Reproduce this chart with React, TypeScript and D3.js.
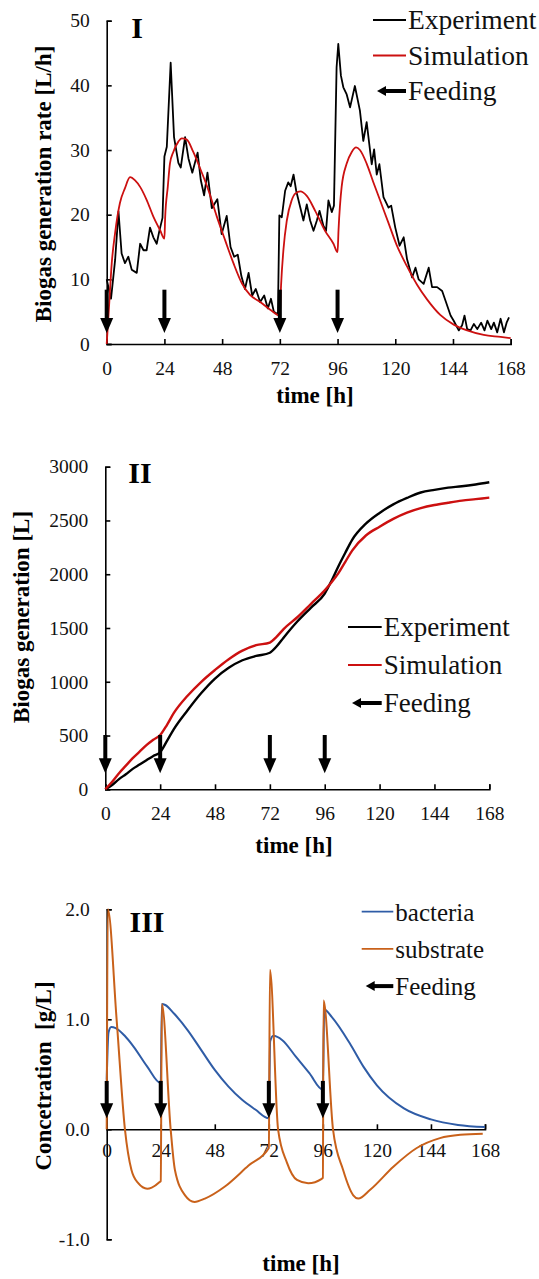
import React, { useRef, useEffect } from "react";
import * as d3 from "d3";

// shared axis data
const hourTicks = [0, 24, 48, 72, 96, 120, 144, 168];
const feedingTimes = [0, 24, 72, 96];

// Panel I - biogas generation rate [L/h]
const rateTicks = [0, 10, 20, 30, 40, 50];
const rateExpTime = [
    0, 1.8, 3.5, 4.9, 6.2, 7.6, 9, 10.4, 12.5, 13.9, 15.3, 16.6, 18, 19.4, 20.8, 21.9, 23.2,
    24, 25, 26.6, 28, 29.8, 30.8, 32.6, 34, 35.6, 37.8, 39.1, 40.5, 41.9, 43.7, 46, 47.8, 49.9,
    51.5, 53, 54.5, 56, 57.5, 59, 60.5, 62, 63.8, 65.5, 67, 68.3, 69.5, 71.2, 71.8, 72.8, 74.2,
    75.5, 76.5, 77.7, 78.8, 80.5, 81.8, 83.2, 84.6, 86, 87.4, 88.5, 90.1, 91.2, 92.2, 93.6, 94.5,
    95.6, 96.3, 97.4, 98.4, 99.8, 101.2, 103.2, 105.3, 106.7, 108.1, 110.2, 111.2, 112.3, 113.4,
    115.1, 117.2, 118.3, 120, 121.8, 123.5, 124.9, 127, 128.4, 129.7, 131.8, 133.9, 135.3, 137.4,
    139.5, 140.9, 143, 144.3, 146.4, 147.8, 148.8, 149.9, 151.3, 152.7, 154.1, 155.7, 157.1,
    158.3, 159.9, 161, 162.4, 163.8, 165.2, 166.3, 167.3,
];
const rateExpValue = [
    10, 7, 13, 20.5, 14, 12.5, 13.5, 11.5, 11, 15.5, 14.5, 14.5, 18, 16.5, 15.5, 17.5, 19.5,
    29, 30.5, 43.5, 32, 28, 27.3, 32, 28.7, 26.5, 29.6, 25.4, 23, 26.5, 21, 22.4, 17, 19.8,
    15, 13.5, 13.8, 10.5, 8.5, 11, 7.5, 8.5, 6.5, 7.5, 5.5, 7, 5, 4.6, 19.9, 19.6, 23.7,
    25, 24.4, 26.2, 23.7, 21.1, 19.1, 21.6, 19.1, 17.5, 19.1, 20.6, 18.3, 17.5, 22.2, 20.4, 21.4,
    42.8, 46.4, 41.5, 39.7, 38.6, 36.6, 39.9, 36.1, 31.4, 34.3, 27.8, 30.1, 26.2, 27.8,
    22.7, 21.1, 21.4, 18, 15.2, 16.5, 13.1, 10.3, 11.8, 10, 9.3, 11.8, 8.8, 8.8,
    8.2, 6.7, 4.4, 3.6, 2.1, 2.9, 4.4, 2.3, 2.1, 3.1, 2.3, 3.3, 2.1,
    3.6, 2.3, 3.3, 1.8, 3.9, 1.8, 3.3, 4.1,
];
const rateSimTime = [
    0, 1, 2.1, 3.5, 5.5, 7.6, 9.7, 11.8, 13.9, 16.6, 19.4, 22.2, 24, 24.3, 25.4, 26.3, 27.7,
    29.8, 31.2, 33.3, 36, 38.8, 42.3, 45.8, 49.2, 52.7, 56.2, 59.6, 63.8, 68, 72, 72.5, 73.5,
    74.9, 76.9, 78.5, 80.5, 83.2, 86.7, 90.8, 94.3, 96, 96.4, 97.7, 99.8, 101.9, 103.7, 105.3,
    108.1, 110.8, 113.6, 117.2, 120.6, 124.9, 129, 133.2, 138.7, 144.3, 149.9, 156.8, 163.8, 168,
];
const rateSimValue = [
    0, 6, 12.5, 17.2, 21.8, 24.1, 25.8, 25.3, 24.3, 22.3, 19.7, 17.6, 16.3, 19.5, 24.3, 27.9, 29.7,
    31.3, 31.8, 31.6, 29.7, 27.2, 23.8, 19.7, 16.1, 12.5, 9.4, 7.6, 6.5, 5.3, 4.4, 9, 14.6,
    19.1, 22.2, 23.3, 23.6, 22.9, 20.6, 17.5, 15.5, 14.2, 17.6, 24.3, 27.9, 29.7, 30.4, 30,
    27.9, 25.1, 22.3, 18.7, 15.3, 12, 9.2, 6.9, 4.5, 3, 2.1, 1.4, 1.1, 0.9,
];

// Panel II - cumulative biogas generation [L]
const volumeTicks = [0, 500, 1000, 1500, 2000, 2500, 3000];
const volumeTime = [
    0, 3, 6, 9, 12, 15, 18, 21, 24, 27, 30, 36, 42, 48, 54, 60, 66, 72, 75, 78, 84, 90, 96,
    99, 102, 105, 108, 114, 120, 126, 132, 138, 144, 150, 156, 162, 168,
];
const volumeExp = [
    0, 40, 95, 140, 190, 230, 270, 310, 345, 450, 560, 735, 895, 1030, 1130, 1200, 1240, 1270,
    1330, 1410, 1560, 1690, 1820, 1940, 2075, 2200, 2320, 2470, 2570, 2650, 2710, 2760, 2785,
    2805, 2818, 2835, 2855,
];
const volumeSim = [
    0, 70, 150, 220, 290, 350, 410, 460, 505, 600, 710, 870, 1000, 1110, 1210, 1290, 1340, 1365,
    1420, 1490, 1600, 1725, 1850, 1925, 2010, 2115, 2220, 2360, 2442, 2515, 2573, 2615, 2644,
    2665, 2684, 2698, 2712,
];

// Panel III - concentrations [g/L]
const concTicks = [-1, 0, 1, 2];
const concTickLabels = ["-1.0", "0.0", "1.0", "2.0"];
const bacteriaTime = [
    0, 0.8, 2, 4, 8, 12, 18, 24, 24.5, 26, 30, 36, 42, 48, 54, 60, 66, 72, 72.6, 74, 78, 84, 90,
    96, 96.6, 100, 108, 114, 120, 132, 144, 156, 168,
];
const bacteriaValue = [
    0.45, 0.88, 0.93, 0.92, 0.85, 0.75, 0.57, 0.42, 1.14, 1.13, 1.05, 0.9, 0.72, 0.54, 0.39, 0.27,
    0.18, 0.1, 0.8, 0.85, 0.81, 0.66, 0.51, 0.36, 1.09, 1.02, 0.78, 0.57, 0.4, 0.19, 0.09, 0.04, 0.02,
];
const substrateTime = [
    0, 0.5, 4.4, 8.1, 11, 14, 18, 20, 23.5, 24, 24.5, 28.4, 30.3, 34.8, 39, 43.6, 52.5, 63, 72,
    72.5, 76.1, 80, 84.5, 89.5, 95.5, 96, 96.3, 100.5, 105, 109.5, 111.7, 117, 127.3, 137.7, 148,
    157, 167,
];
const substrateValue = [
    0, 2, 1, 0, -0.37, -0.49, -0.54, -0.53, -0.48, -0.47, 1.14, 0, -0.37, -0.6, -0.66, -0.63, -0.52,
    -0.33, -0.17, 1.45, 0, -0.3, -0.46, -0.49, -0.45, -0.44, 1.17, 0, -0.37, -0.6, -0.63, -0.55,
    -0.34, -0.17, -0.08, -0.05, -0.04,
];

const SERIF = "'Liberation Serif', 'Times New Roman', Times, 'DejaVu Serif', serif";

interface Series {
    t: number[];
    v: number[];
    color: string;
    width: number;
    curve: d3.CurveFactory;
}

interface LegendItem {
    name: string;
    color: string;
    arrow?: boolean;
}

interface PanelCfg {
    box: [number, number, number, number]; // x0, x1, yTop, yBottom
    yDomain: [number, number];
    yTicks: number[];
    yFormat: (d: number, i: number) => string;
    xAxisAt: number;
    xPadding: number;
    series: Series[];
    arrowFrom: number;
    arrowTo: number;
    label: string;
    labelPos: [number, number];
    yTitle: string;
    yTitlePos: [number, number];
    xTitlePos: [number, number];
    legend: LegendItem[];
    legendPos: [number, number, number, number]; // lineX0, lineX1, firstRowY, rowStep
    legendFont: number;
}

function drawPanel(svg: d3.Selection<SVGSVGElement, unknown, null, undefined>, cfg: PanelCfg) {
    const [x0, x1, yTop, yBottom] = cfg.box;
    const x = d3.scaleLinear().domain([0, 168]).range([x0, x1]);
    const y = d3.scaleLinear().domain(cfg.yDomain).range([yBottom, yTop]);
    const g = svg.append("g");

    // axes (ticks point inward)
    const yAxis = g
        .append("g")
        .attr("transform", `translate(${x0},0)`)
        .call(
            d3
                .axisLeft(y)
                .tickValues(cfg.yTicks)
                .tickSize(-5)
                .tickPadding(17)
                .tickFormat(cfg.yFormat as any)
        );
    const xAxis = g
        .append("g")
        .attr("transform", `translate(0,${y(cfg.xAxisAt)})`)
        .call(
            d3
                .axisBottom(x)
                .tickValues(hourTicks)
                .tickSize(-5)
                .tickPadding(cfg.xPadding)
                .tickFormat(d3.format("d") as any)
        );
    [yAxis, xAxis].forEach((a) => {
        a.attr("font-family", null).attr("font-size", null);
        a.selectAll("path, line").attr("stroke", "#000").attr("stroke-width", 1.6);
        a.selectAll("text")
            .attr("fill", "#111")
            .style("font-family", SERIF)
            .style("font-size", "19.5px");
    });

    // lines
    cfg.series.forEach((s) => {
        const pts = s.t.map((t, i) => [t, s.v[i]] as [number, number]);
        const line = d3
            .line<[number, number]>()
            .x((d) => x(d[0]))
            .y((d) => y(d[1]))
            .curve(s.curve);
        g.append("path")
            .attr("d", line(pts))
            .attr("fill", "none")
            .attr("stroke", s.color)
            .attr("stroke-width", s.width)
            .attr("stroke-linejoin", "round");
    });

    // feeding arrows
    const head = 15;
    feedingTimes.forEach((t) => {
        const ax = x(t);
        const top = y(cfg.arrowFrom);
        const tip = y(cfg.arrowTo);
        g.append("line")
            .attr("x1", ax)
            .attr("x2", ax)
            .attr("y1", top)
            .attr("y2", tip - head + 1)
            .attr("stroke", "#000")
            .attr("stroke-width", 4);
        g.append("path")
            .attr("d", `M${ax - 6.5},${tip - head} L${ax + 6.5},${tip - head} L${ax},${tip} Z`)
            .attr("fill", "#000");
    });

    // labels
    g.append("text")
        .attr("x", cfg.labelPos[0])
        .attr("y", cfg.labelPos[1])
        .attr("text-anchor", "middle")
        .style("font-family", SERIF)
        .style("font-weight", "bold")
        .style("font-size", "30px")
        .text(cfg.label);

    g.append("text")
        .attr("transform", `translate(${cfg.yTitlePos[0]},${cfg.yTitlePos[1]}) rotate(-90)`)
        .attr("text-anchor", "middle")
        .style("font-family", SERIF)
        .style("font-weight", "bold")
        .style("font-size", "23px")
        .style("white-space", "pre")
        .text(cfg.yTitle);

    g.append("text")
        .attr("x", cfg.xTitlePos[0])
        .attr("y", cfg.xTitlePos[1])
        .attr("text-anchor", "middle")
        .style("font-family", SERIF)
        .style("font-weight", "bold")
        .style("font-size", "23px")
        .text("time [h]");

    // legend
    const [lx0, lx1, ly0, step] = cfg.legendPos;
    cfg.legend.forEach((item, i) => {
        const ly = ly0 + i * step;
        if (item.arrow) {
            g.append("line")
                .attr("x1", lx0 + 11)
                .attr("x2", lx1)
                .attr("y1", ly)
                .attr("y2", ly)
                .attr("stroke", "#000")
                .attr("stroke-width", 4);
            g.append("path")
                .attr("d", `M${lx0 + 4},${ly} L${lx0 + 13},${ly - 5} L${lx0 + 13},${ly + 5} Z`)
                .attr("fill", "#000");
        } else {
            g.append("line")
                .attr("x1", lx0)
                .attr("x2", lx1)
                .attr("y1", ly)
                .attr("y2", ly)
                .attr("stroke", item.color)
                .attr("stroke-width", 1.8);
        }
        g.append("text")
            .attr("x", lx1 + 2)
            .attr("y", ly + 9)
            .attr("fill", "#111")
            .style("font-family", SERIF)
            .style("font-size", `${cfg.legendFont}px`)
            .text(item.name);
    });
}

const RED = "#cc1010";
const BLUE = "#2f5ca6";
const ORANGE = "#c9611a";

const App: React.FC = () => {
    const svgRef = useRef<SVGSVGElement | null>(null);

    useEffect(() => {
        if (!svgRef.current) return;
        const svg = d3.select(svgRef.current);
        svg.selectAll("*").remove();

        drawPanel(svg, {
            box: [106.7, 510.7, 20.7, 344],
            yDomain: [0, 50],
            yTicks: rateTicks,
            yFormat: (d) => String(d),
            xAxisAt: 0,
            xPadding: 17,
            series: [
                { t: rateExpTime, v: rateExpValue, color: "#000", width: 1.8, curve: d3.curveLinear },
                { t: rateSimTime, v: rateSimValue, color: RED, width: 1.8, curve: d3.curveMonotoneX },
            ],
            arrowFrom: 8.4,
            arrowTo: 1.7,
            label: "I",
            labelPos: [137, 38],
            yTitle: "Biogas generation rate [L/h]",
            yTitlePos: [51, 184],
            xTitlePos: [315, 403],
            legend: [
                { name: "Experiment", color: "#000" },
                { name: "Simulation", color: RED },
                { name: "Feeding", color: "#000", arrow: true },
            ],
            legendPos: [373, 406, 20, 35.5],
            legendFont: 27.5,
        });

        drawPanel(svg, {
            box: [105.3, 489.3, 466.7, 789.3],
            yDomain: [0, 3000],
            yTicks: volumeTicks,
            yFormat: (d) => String(d),
            xAxisAt: 0,
            xPadding: 17,
            series: [
                { t: volumeTime, v: volumeExp, color: "#000", width: 2.4, curve: d3.curveMonotoneX },
                { t: volumeTime, v: volumeSim, color: RED, width: 2.4, curve: d3.curveMonotoneX },
            ],
            arrowFrom: 505,
            arrowTo: 150,
            label: "II",
            labelPos: [140, 483],
            yTitle: "Biogas generation [L]",
            yTitlePos: [29, 617],
            xTitlePos: [294, 853],
            legend: [
                { name: "Experiment", color: "#000" },
                { name: "Simulation", color: RED },
                { name: "Feeding", color: "#000", arrow: true },
            ],
            legendPos: [348, 381.7, 627, 38],
            legendFont: 27,
        });

        drawPanel(svg, {
            box: [106.7, 485, 909.3, 1239.3],
            yDomain: [-1, 2],
            yTicks: concTicks,
            yFormat: (d, i) => concTickLabels[i],
            xAxisAt: 0,
            xPadding: 14,
            series: [
                { t: bacteriaTime, v: bacteriaValue, color: BLUE, width: 2, curve: d3.curveMonotoneX },
                { t: substrateTime, v: substrateValue, color: ORANGE, width: 2, curve: d3.curveMonotoneX },
            ],
            arrowFrom: 0.44,
            arrowTo: 0.1,
            label: "III",
            labelPos: [147, 932],
            yTitle: "Concetration  [g/L]",
            yTitlePos: [51, 1076],
            xTitlePos: [301, 1271],
            legend: [
                { name: "bacteria", color: BLUE },
                { name: "substrate", color: ORANGE },
                { name: "Feeding", color: "#000", arrow: true },
            ],
            legendPos: [361.7, 393.3, 911.7, 37.2],
            legendFont: 25,
        });
    }, []);

    return (
        <svg
            ref={svgRef}
            width={539}
            height={1279}
            style={{ position: "absolute", left: 0, top: 0, background: "#fff" }}
        />
    );
};

export default App;
